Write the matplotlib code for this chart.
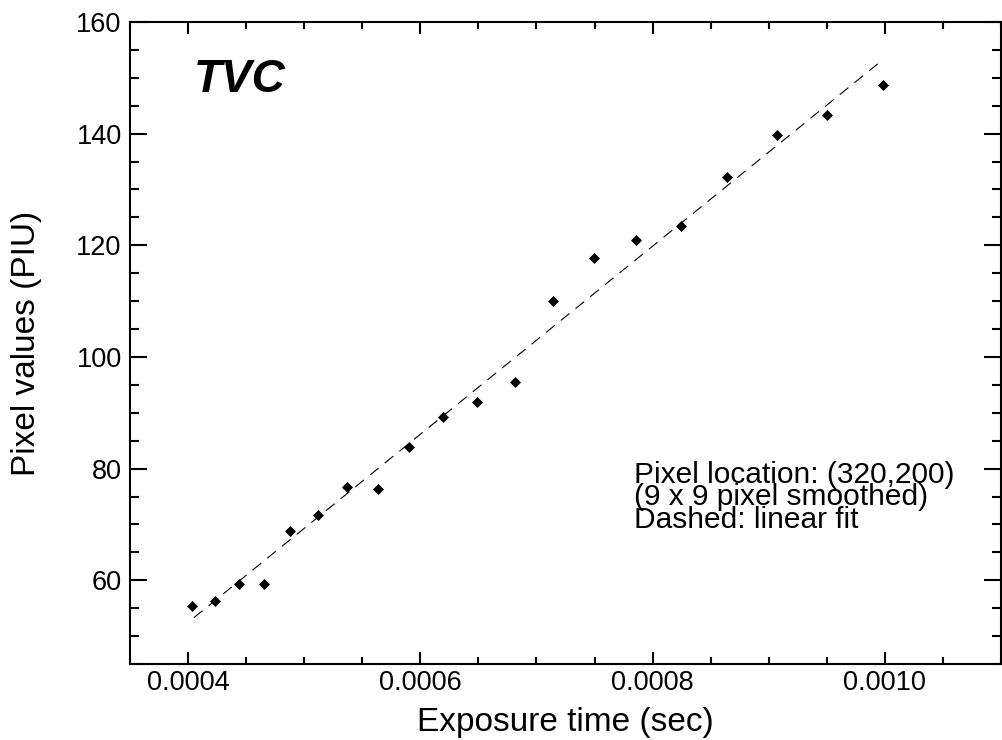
import matplotlib
matplotlib.use("Agg")
import matplotlib.pyplot as plt
from matplotlib.ticker import MultipleLocator

plt.rcParams['font.family'] = ['Liberation Sans', 'DejaVu Sans']

# Data
exposure_time = [0.0004034, 0.0004236, 0.0004438, 0.0004658, 0.0004880,
                 0.0005122, 0.0005371, 0.0005633, 0.0005906, 0.0006197,
                 0.0006492, 0.0006815, 0.0007142, 0.0007496, 0.0007857,
                 0.0008246, 0.0008640, 0.0009070, 0.0009505, 0.0009980]
pixel_values = [55.4, 56.2, 59.3, 59.4, 68.8,
                71.7, 76.7, 76.3, 83.9, 89.2,
                91.9, 95.6, 110.1, 117.7, 121.0,
                123.5, 132.2, 139.7, 143.4, 148.8]
fit_x = [0.000405, 0.000998]
fit_y = [53.3, 153.2]

annot_lines = ["Pixel location: (320,200)",
               "(9 x 9 pixel smoothed)",
               "Dashed: linear fit"]

W, H = 1003, 740
fig = plt.figure(figsize=(W / 100, H / 100), dpi=100)
ax = fig.add_axes([130 / W, 1 - 664 / H, 871 / W, 642 / H])

ax.plot(fit_x, fit_y, color='black', lw=0.8, dashes=(10, 7))
ax.plot(exposure_time, pixel_values, linestyle='none', marker='D',
        markersize=5.3, color='black', markeredgewidth=0.5)

ax.set_xlim(0.00035, 0.0011)
ax.set_ylim(45, 160)
ax.xaxis.set_major_locator(MultipleLocator(0.0002))
ax.xaxis.set_minor_locator(MultipleLocator(0.00005))
ax.yaxis.set_major_locator(MultipleLocator(20))
ax.yaxis.set_minor_locator(MultipleLocator(5))
ax.xaxis.set_major_formatter(plt.FuncFormatter(lambda v, p: f"{v:.4f}"))

for s in ax.spines.values():
    s.set_linewidth(1.5)

ax.tick_params(axis='x', which='both', direction='in', top=True, bottom=True,
               width=1.5, labelsize=19.5, pad=4)
ax.tick_params(axis='x', which='major', length=8.6)
ax.tick_params(axis='x', which='minor', length=5)
ax.tick_params(axis='y', which='both', direction='in', left=True, right=True,
               width=1.5, labelsize=19.5, pad=6)
ax.tick_params(axis='y', which='major', length=12)
ax.tick_params(axis='y', which='minor', length=6.5)

ax.set_xlabel("Exposure time (sec)", fontsize=24)
ax.set_ylabel("Pixel values (PIU)", fontsize=24)
ax.xaxis.set_label_coords(0.5, (664 - 731) / 642, transform=ax.transAxes)
ax.xaxis.label.set_va('baseline')
ax.yaxis.set_label_coords((42 - 130) / 871, 0.5, transform=ax.transAxes)

fig.text(194 / W, 1 - 91.7 / H, "TVC", fontsize=33, fontweight='bold',
         fontstyle='italic', ha='left', va='baseline')

fig.text(634 / W, 1 - 527.8 / H, "\n".join(annot_lines), fontsize=21.5,
         ha='left', va='baseline', linespacing=0.75)

fig.savefig("out.png", dpi=100)
